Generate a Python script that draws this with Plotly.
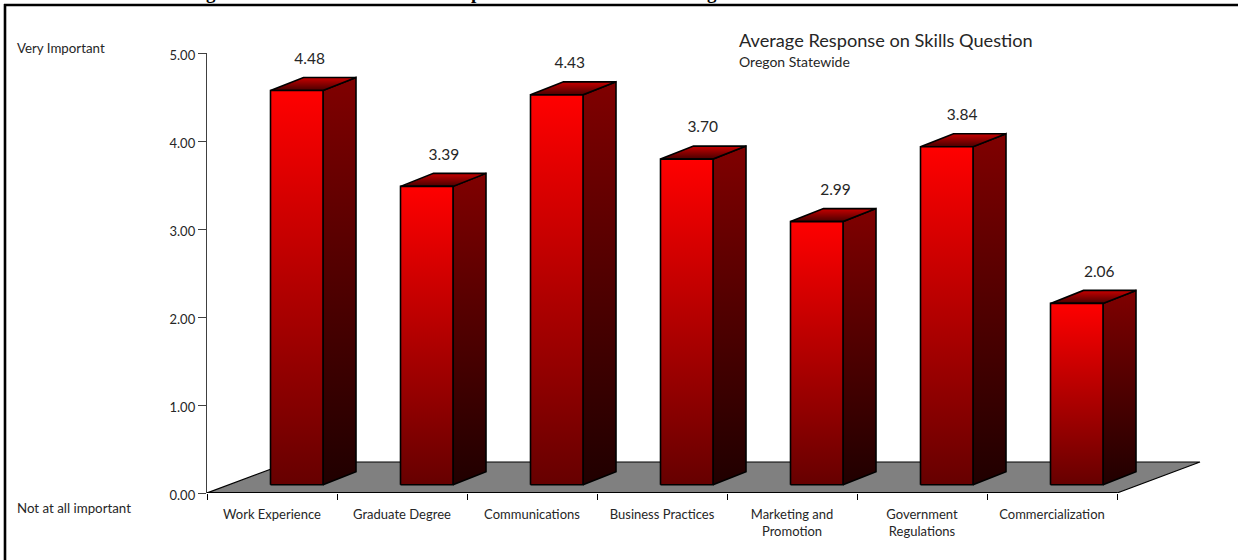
import plotly.graph_objects as go

categories = ["Work Experience", "Graduate Degree", "Communications", "Business Practices",
              "Marketing and<br>Promotion", "Government<br>Regulations", "Commercialization"]
values = [4.48, 3.39, 4.43, 3.70, 2.99, 3.84, 2.06]
y_ticks = [0, 1, 2, 3, 4, 5]

FONT = "Lato, Carlito, sans-serif"
INK = "#262626"

# Oblique projection constants, in axis units (130 px per category, 88 px per point)
UX, UY = 130.0, 88.0
BAR_W = 52.5 / UX
BAR_SHIFT = -1.5 / UX
BASE = 8.3 / UY
DX, DY = 33.0 / UX, 13.0 / UY
FLOOR_DX, FLOOR_DY = 83.0 / UX, 31.0 / UY
N = len(values)


def face(xs, ys, low, high):
    """A closed polygon with a vertical gradient, low colour at its bottom."""
    return go.Scatter(
        x=xs + xs[:1], y=ys + ys[:1], mode="lines", fill="toself",
        fillgradient=dict(type="vertical", colorscale=[[0, low], [1, high]]),
        line=dict(color="#000000", width=1.6), hoverinfo="skip", cliponaxis=False,
    )


fig = go.Figure()

# Grey floor of the chart
fig.add_trace(go.Scatter(
    x=[0, N, N + FLOOR_DX, FLOOR_DX, 0], y=[0, 0, FLOOR_DY, FLOOR_DY, 0],
    mode="lines", fill="toself", fillcolor="#808080",
    line=dict(color="#000000", width=1.2), hoverinfo="skip", cliponaxis=False,
))

# Front edge of the floor doubles as the category axis
fig.add_trace(go.Scatter(
    x=[0, N], y=[0, 0], mode="lines", line=dict(color="#000000", width=2),
    hoverinfo="skip", cliponaxis=False,
))

# Each bar: front, side and top faces
for i, v in enumerate(values):
    x0 = i + 0.5 + BAR_SHIFT
    x1 = x0 + BAR_W
    y0 = BASE
    y1 = v + BASE
    fig.add_trace(face([x1, x1 + DX, x1 + DX, x1], [y0, y0 + DY, y1 + DY, y1], "#200000", "#800000"))
    fig.add_trace(face([x0, x1, x1 + DX, x0 + DX], [y1, y1, y1 + DY, y1 + DY], "#480000", "#c80000"))
    fig.add_trace(face([x0, x1, x1, x0], [y0, y0, y1, y1], "#660000", "#ff0000"))

# Value labels sit above each bar, drifting right as the bars get shorter
fig.add_trace(go.Scatter(
    x=[i + 0.5 + (55.5 - 4 * v) / UX for i, v in enumerate(values)],
    y=[v + BASE + 30.5 / UY for v in values],
    text=[f"{v:.2f}" for v in values],
    mode="text", textposition="middle center",
    textfont=dict(family=FONT, size=15.5, color=INK),
    hoverinfo="skip", cliponaxis=False,
))


def note(text, x, y, size, anchor="left", family=FONT, color=INK, weight=None):
    fig.add_annotation(
        text=text, x=x, y=y, xref="paper", yref="paper", xanchor=anchor, yanchor="middle",
        showarrow=False, font=dict(family=family, size=size, color=color, weight=weight),
    )


W, H = 1238.0, 560.0
ML, MT, MB = 207.0, 53.0, 67.0
PW, PH = W - ML, H - MT - MB


def px(x):
    return (x - ML) / PW


def py(y):
    return (H - MB - y) / PH


note("Average Response on Skills Question", px(737), py(40), 18.2)
note("Oregon Statewide", px(737), py(61.5), 14)
note("Very Important", px(15), py(48), 13.3)
note("Not at all important", px(15), py(508), 13.3)

# Lower parts of the page heading above the frame
for ch, cx in (("g", 211), ("p", 476), ("g", 712)):
    note(ch, px(cx), py(-7), 19, anchor="center", family="Liberation Serif", color="#000000", weight="bold")

fig.update_layout(
    width=1238, height=560, autosize=False,
    margin=dict(l=ML, r=0, t=MT, b=MB, pad=0),
    paper_bgcolor="#ffffff", plot_bgcolor="#ffffff", showlegend=False,
    xaxis=dict(
        range=[0, (W - ML) / UX], tickmode="array",
        tickvals=[i + 0.5 for i in range(N)], ticktext=categories,
        ticks="", showgrid=False, zeroline=False, showline=False,
        tickfont=dict(family=FONT, size=13, color=INK),
        minor=dict(tick0=0, dtick=1, ticks="outside", ticklen=6, tickwidth=1.2,
                   tickcolor="#000000", showgrid=False),
        ticklabelstandoff=12, fixedrange=True,
    ),
    yaxis=dict(
        range=[0, 5], tickmode="array", tickvals=y_ticks,
        ticktext=[f"{t:.2f}" for t in y_ticks],
        ticks="outside", ticklen=8, tickwidth=1.2, tickcolor="#404040",
        showline=True, linecolor="#404040", linewidth=1.4,
        showgrid=False, zeroline=False, ticklabelshift=2,
        tickfont=dict(family=FONT, size=13, color=INK), fixedrange=True,
    ),
    # Frame open at the right and bottom edges of the page
    shapes=[dict(type="line", xref="paper", yref="paper", x0=px(4), x1=1, y0=py(5), y1=py(5),
                 line=dict(color="#000000", width=2.6)),
            dict(type="line", xref="paper", yref="paper", x0=px(5), x1=px(5), y0=py(4), y1=py(560),
                 line=dict(color="#000000", width=2.6))],
)

fig.write_html("out.html", config={"displayModeBar": False})
